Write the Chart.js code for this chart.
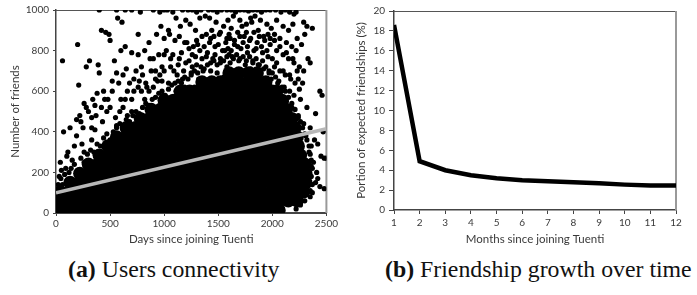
<!DOCTYPE html>
<html>
<head>
<meta charset="utf-8">
<script src="https://cdn.jsdelivr.net/npm/chart.js@4/dist/chart.umd.min.js"></script>
<style>
  body { margin: 0; background: #fff; width: 697px; height: 295px; overflow: hidden; position: relative; }
  canvas { position: absolute; top: 0; }
  #chartA { left: 0; }
  #chartB { left: 340px; }
  .caption { position: absolute; top: 256px; font-family: "Liberation Serif", "Times New Roman", serif; font-size: 23.8px; color: #111; white-space: nowrap; }
</style>
</head>
<body>
<canvas id="chartA" width="340" height="250"></canvas>
<canvas id="chartB" width="357" height="250"></canvas>
<div class="caption" style="left:68px"><b>(a)</b> Users connectivity</div>
<div class="caption" style="left:385px"><b>(b)</b> Friendship growth over time</div>
<script>
// (a) friends vs days since joining -- dense core, read row by row [friends, days...]
const coreRows = [
    [15,  [30,118,200,287,372,455,541,626,708,795,882,963,1050,1137,1220,1303,1391,1476,1558,1645,1731,1814,1900,1984,2062]],
    [60,  [20,105,192,276,363,448,530,617,702,788,871,958,1042,1129,1211,1298,1384,1467,1552,1639,1723,1808,1893,1979,2062,2148,2230]],
    [105, [40,124,210,293,380,463,549,633,717,803,887,972,1056,1142,1225,1311,1395,1480,1563,1649,1733,1818,1902,1988,2071,2157,2240,2290]],
    [150, [130,214,299,383,468,552,637,721,806,890,975,1059,1144,1228,1313,1397,1482,1566,1651,1735,1820,1904,1989,2073,2158,2242,2310]],
    [195, [220,305,389,474,558,643,727,812,896,981,1065,1150,1234,1319,1403,1488,1572,1657,1741,1826,1910,1995,2079,2164,2248,2310]],
    [240, [300,386,470,556,640,726,810,896,980,1066,1150,1236,1320,1406,1490,1576,1660,1746,1830,1916,2000,2086,2170,2256,2300]],
    [285, [400,485,570,655,740,825,910,995,1080,1165,1250,1335,1420,1505,1590,1675,1760,1845,1930,2015,2100,2185,2260]],
    [330, [480,566,648,735,818,905,990,1072,1160,1243,1330,1412,1498,1583,1668,1752,1838,1921,2006,2092,2175,2240]],
    [375, [560,646,730,815,902,985,1070,1156,1240,1326,1410,1494,1580,1665,1750,1834,1920,2004,2090,2174,2230]],
    [420, [650,735,822,905,990,1076,1160,1244,1330,1414,1500,1585,1670,1754,1840,1924,2010,2094,2170,2210]],
    [465, [780,864,950,1034,1120,1204,1290,1374,1460,1544,1630,1714,1800,1884,1970,2054,2130,2180]],
    [510, [880,965,1050,1134,1220,1305,1390,1474,1560,1645,1730,1814,1900,1985,2070,2130]],
    [555, [1000,1085,1170,1256,1340,1426,1510,1596,1680,1766,1850,1936,2020,2090]],
    [600, [1150,1236,1320,1406,1490,1576,1660,1746,1830,1916,2000,2040]],
    [645, [1350,1440,1520,1610,1690,1780,1870,1940]],
    [690, [1600,1690,1780,1860]]
];

// (a) scattered users outside the dense core [days, friends]
const sparseUsers = [
    [60,750],[70,400],[50,210],[40,250],[30,180],[110,300],[130,420],[160,160],[150,260],[120,200],[190,380],[190,460],[210,630],[200,830],[90,220],[60,140],[170,330],[100,280],
    [280,720],[310,750],[260,540],[280,520],[230,450],[330,470],[260,300],[330,360],[340,560],[360,410],[300,250],[240,340],[370,480],[390,730],[400,690],[380,590],
    [400,1000],[420,900],[460,890],[490,880],[500,850],[540,750],[520,600],[580,640],[450,560],[500,520],[470,500],[430,450],[560,430],[560,690],[600,800],[570,960],[560,1000],[590,500],[550,470],
    [610,940],[640,1000],[700,1000],[640,820],[700,790],[760,780],[650,710],[680,640],[720,600],[640,560],[620,520],[740,700],[770,650],[760,880],[780,990],[700,500],[660,480],[790,600],[790,720],
    [820,800],[860,840],[880,700],[900,760],[840,620],[960,680],[980,720],[930,880],[970,920],[900,1000],[960,990],[1000,1000],[820,560],[900,620],[940,650],[990,580],[1000,780],[1000,860],
    [1030,1000],[1080,990],[1110,960],[1150,920],[1050,880],[1100,850],[1020,800],[1080,780],[1140,760],[1060,720],[1180,700],[1120,680],[1040,640],[1170,660],[1110,600],[1190,620],[1200,950],[1170,1000],[1190,840],[1140,870],[1040,900],
    [1220,1000],[1260,1000],[1300,990],[1340,1000],[1380,970],[1240,930],[1290,900],[1350,870],[1210,840],[1270,820],[1330,800],[1390,770],[1230,750],[1300,730],[1360,700],[1250,680],[1320,660],[1380,640],[1280,620],[1330,960],[1390,880],[1300,850],[1260,780],
    [1410,1000],[1450,1000],[1490,990],[1530,1000],[1580,1000],[1420,960],[1480,940],[1550,920],[1440,900],[1510,880],[1580,860],[1420,840],[1470,820],[1540,800],[1600,780],[1450,760],[1520,740],[1580,720],[1430,700],[1490,690],[1550,670],[1600,650],[1590,950],[1460,870],[1590,810],
    [1620,1000],[1660,990],[1700,1000],[1740,1000],[1780,995],[1640,970],[1700,950],[1760,930],[1620,910],[1680,890],[1740,870],[1790,850],[1650,830],[1710,810],[1770,790],[1630,770],[1690,750],[1750,730],[1800,710],[1660,700],[1720,690],[1780,680],[1800,960],[1610,860],[1720,920],
    [1820,1000],[1860,1000],[1900,990],[1940,1000],[1980,1000],[1840,970],[1890,950],[1950,930],[1990,910],[1830,890],[1880,870],[1930,850],[1980,830],[1850,810],[1910,790],[1960,770],[1820,750],[1870,730],[1920,710],[1970,690],[1880,670],[1990,660],[1810,940],[1960,880],
    [2030,1000],[2080,990],[2120,1000],[2160,990],[2200,980],[2040,950],[2100,920],[2150,900],[2020,880],[2070,860],[2130,840],[2180,820],[2040,800],[2100,780],[2150,760],[2200,740],[2020,720],[2070,700],[2120,680],[2170,660],[2050,640],[2110,620],[2160,600],[2200,580],[2130,550],[2180,520],[2150,490],[2190,930],[2020,850],
    [2220,990],[2290,940],[2320,920],[2370,910],[2300,880],[2230,860],[2270,830],[2220,800],[2330,760],[2350,740],[2250,720],[2290,700],[2240,660],[2280,640],[2440,600],[2460,580],[2260,560],[2320,520],[2400,490],[2240,470],[2290,440],[2350,420],[2470,400],[2310,380],[2390,360],[2420,340],[2360,330],[2340,300],[2450,280],[2480,270],[2500,270],[2380,250],[2360,230],[2410,200],[2420,170],[2400,150],[2440,130],[2480,120],[2370,100],[2350,80],[2300,60],[2260,40],[2220,20],
    // fuzzy edge along the top of the dense core
    [20,140],[45,170],[80,190],[110,160],[140,220],[170,240],[200,210],[230,270],[260,250],[290,290],[320,310],[350,300],[380,340],[410,330],[440,370],[470,390],[500,360],[530,400],[560,420],[590,440],[620,410],[650,460],[680,450],[710,480],[740,500],[770,490],[800,520],[830,540],[860,530],[890,560],[920,570],[950,590],[980,600],[1010,580],[1040,610],[1070,630],[1100,640],[1130,650],[1160,640],[1190,670],[1220,660],[1250,690],[1280,700],[1310,690],[1340,720],[1370,710],[1400,730],[1430,740],[1460,750],[1490,730],[1520,760],[1550,750],[1580,770],[1610,740],[1640,760],[1670,780],[1700,760],[1730,770],[1760,750],[1790,770],[1820,740],[1850,760],[1880,730],[1910,750],[1940,720],[1970,700],[2000,690],[2030,670],[2060,650],[2090,620],[2120,600],[2150,570],[2180,540],[2210,510],[2240,480],[2260,450],[2280,420],[2300,390],[2320,360],[2340,330],[2350,290],[2360,260],[2370,220],[2360,180],[2370,140],[2350,110],
    [920,660],[1000,700],[1060,760],[1090,700],[1130,730],[1160,790],[1200,740],[1230,810],[1260,720],[1290,770],[1310,830],[1350,760],[1370,820],[1400,790],[1430,860],[1470,780],[1500,830],[1520,890],[1560,800],[1570,840],[1600,880],[1620,800],[1650,850],[1680,820],[1700,870],[1730,840],[1760,890],[1770,820],[1800,860],[1830,800],[1860,840],[1870,900],[1900,820],[1920,870],[1950,800],[1980,860],[2000,760],[2040,740],[2070,820],[2100,700],[2130,790],[2160,680],[2190,760],[2210,640],[2230,700],[2250,610],
    [220,480],[250,420],[300,500],[330,420],[360,530],[420,520],[440,600],[480,560],[520,650],[600,560],[620,680],[660,600],[700,560],[720,660],[760,620],[800,680],[830,640],[860,600],[870,760],[920,700],[950,780],[980,650]
];

// (a) linear trend
const trendDays = [0, 2500];
const trendFriends = [100, 415];

// (b) portion of expected friendships per month
const months = [1, 2, 3, 4, 5, 6, 7, 8, 9, 10, 11, 12];
const friendshipPct = [18.6, 4.9, 4.0, 3.5, 3.2, 3.0, 2.9, 2.8, 2.7, 2.55, 2.45, 2.45];

const corePoints = [];
coreRows.forEach(r => r[1].forEach(x => corePoints.push({ x: x, y: r[0] })));
const sparsePoints = sparseUsers.map(p => ({ x: p[0], y: p[1] }));
const trendPoints = trendDays.map((d, i) => ({ x: d, y: trendFriends[i] }));

const tickFont = { family: 'Lato, "Liberation Sans", sans-serif', size: 10 };
const titleFont = { family: 'Lato, "Liberation Sans", sans-serif', size: 11.5 };
const plain = v => String(v);

// top + right frame lines of the plot box
const frame = {
    id: 'frame',
    beforeDatasetsDraw(chart) {
        const ctx = chart.ctx, a = chart.chartArea;
        ctx.save();
        ctx.strokeStyle = '#555';
        ctx.lineWidth = 1;
        ctx.beginPath();
        ctx.moveTo(a.left, a.top + 0.5);
        ctx.lineTo(a.right, a.top + 0.5);
        ctx.stroke();
        ctx.strokeStyle = '#999';
        ctx.lineWidth = 2;
        ctx.beginPath();
        ctx.moveTo(a.right, a.top);
        ctx.lineTo(a.right, a.bottom);
        ctx.stroke();
        ctx.restore();
    }
};

Chart.defaults.animation = false;
Chart.defaults.color = '#3a3a3a';

new Chart(document.getElementById('chartA'), {
    type: 'scatter',
    data: {
        datasets: [{
            type: 'line',
            data: trendPoints,
            borderColor: '#b8b8b8',
            borderWidth: 3.5,
            pointRadius: 0,
            order: 0
        }, {
            data: corePoints,
            backgroundColor: '#000',
            borderWidth: 0,
            pointRadius: 6.7,
            order: 1
        }, {
            data: sparsePoints,
            backgroundColor: '#000',
            borderWidth: 0,
            pointRadius: 2.6,
            order: 1
        }]
    },
    options: {
        responsive: false,
        layout: { padding: { top: 9, right: 13, left: 0, bottom: 0 } },
        plugins: { legend: { display: false }, tooltip: { enabled: false } },
        scales: {
            x: {
                min: 0, max: 2500,
                ticks: { stepSize: 500, font: tickFont, padding: 2, maxRotation: 0, callback: plain },
                grid: { drawOnChartArea: false, tickLength: 3, color: '#444' },
                border: { color: '#444', width: 2 },
                title: { display: true, text: 'Days since joining Tuenti', font: titleFont, padding: { top: 6 } },
                afterFit: s => { s.height = 37; }
            },
            y: {
                min: 0, max: 1000,
                ticks: { stepSize: 200, font: tickFont, padding: 4, callback: plain },
                grid: { drawOnChartArea: false, tickLength: 3, color: '#444' },
                border: { color: '#444', width: 1.5 },
                title: { display: true, text: 'Number of friends', font: titleFont, padding: { top: 8, bottom: 2 } },
                afterFit: s => { s.width = 56; }
            }
        }
    },
    plugins: [frame]
});

new Chart(document.getElementById('chartB'), {
    type: 'line',
    data: {
        datasets: [{
            data: months.map((m, i) => ({ x: m, y: friendshipPct[i] })),
            borderColor: '#000',
            borderWidth: 4.5,
            pointRadius: 0,
            tension: 0
        }]
    },
    options: {
        responsive: false,
        layout: { padding: { top: 11, right: 21, left: 0, bottom: 0 } },
        plugins: { legend: { display: false }, tooltip: { enabled: false } },
        scales: {
            x: {
                type: 'linear',
                min: 1, max: 12,
                ticks: { stepSize: 1, font: tickFont, padding: 3, maxRotation: 0, callback: plain },
                grid: { drawOnChartArea: false, tickLength: 4, color: '#444' },
                border: { color: '#444', width: 1.5 },
                title: { display: true, text: 'Months since joining Tuenti', font: titleFont, padding: { top: 7 } },
                afterFit: s => { s.height = 40; }
            },
            y: {
                min: 0, max: 20,
                ticks: { stepSize: 2, font: tickFont, padding: 4, callback: plain },
                grid: { drawOnChartArea: false, tickLength: 5, color: '#444' },
                border: { color: '#444', width: 1.5 },
                title: { display: true, text: 'Portion of expected friendships (%)', font: titleFont, padding: { top: 14, bottom: 2 } },
                afterFit: s => { s.width = 54; }
            }
        }
    },
    plugins: [frame]
});
</script>
</body>
</html>
